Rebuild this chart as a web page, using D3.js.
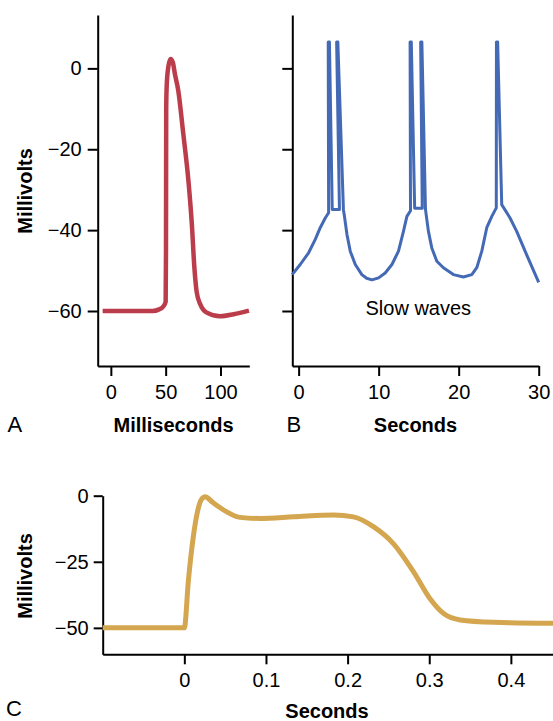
<!DOCTYPE html>
<html><head><meta charset="utf-8">
<script src="https://cdn.jsdelivr.net/npm/d3@7"></script>
<style>
body{margin:0;background:#fff;}
svg text{font-family:"Liberation Sans",Arial,Helvetica,sans-serif;fill:#000;}
</style></head><body>
<svg id="chart" width="553" height="721"></svg>
<script>
// ---------- Panel A: action potential (milliseconds, millivolts)
const aTimeMs = [-7.5, 38, 44, 48, 50, 50.3, 50.5, 51, 52.5, 54.5, 56.5, 58.5, 61.5, 66, 71, 74, 76, 78.3, 81.5, 87.5, 99.7, 112, 126];
const aMillivolts = [-60, -60, -59.6, -58.8, -57.7, -45, -10, -4, 0.5, 2.3, 1.5, -1.5, -5.5, -16, -28.5, -39, -48.5, -55.3, -58.3, -60.4, -61.3, -60.8, -59.9];
const aXTicks = [0, 50, 100];
const aXLabels = ["0", "50", "100"];
const abYTicks = [0, -20, -40, -60];
const aYLabels = ["0", "\u221220", "\u221240", "\u221260"];

// ---------- Panel B: slow waves with spikes (seconds, millivolts)
const bSeconds = [-0.8, 0.2, 1.25, 2.08, 2.7, 3.33, 3.75, 3.7, 3.85, 4.2, 5.1, 4.75, 4.9, 5.6, 5.7, 6.04, 6.45, 7.08, 7.9, 8.5, 9.16, 9.99, 10.82, 11.66, 12.48, 13.1, 13.53, 13.98, 13.93, 14.08, 14.5, 15.45, 15.25, 15.4, 15.85, 15.94, 16.22, 16.64, 17.27, 18.09, 19.34, 20.59, 21.64, 22.26, 22.89, 23.51, 24.14, 24.7, 24.72, 24.87, 25.38, 26.42, 27.25, 28.5, 30.0];
const bMillivolts = [-51.0, -48.5, -45.6, -42.3, -39.4, -37.0, -35.7, 6.5, 6.5, -34.9, -34.9, 6.5, 6.5, -35.0, -36.2, -41.1, -45.2, -48.5, -51.0, -51.9, -52.3, -51.8, -50.6, -48.5, -45.2, -40.3, -36.6, -35.2, 6.5, 6.5, -34.6, -34.6, 6.5, 6.5, -34.8, -36.2, -40.3, -44.4, -47.7, -49.3, -51.0, -51.6, -51.0, -49.3, -45.2, -39.4, -36.6, -34.5, 6.5, 6.5, -33.7, -37.0, -40.3, -46.1, -52.9];
const bXTicks = [0, 10, 20, 30];
const bXLabels = ["0", "10", "20", "30"];

// ---------- Panel C: action potential (seconds, millivolts)
const cSeconds = [-0.1, 0, 0.005, 0.011, 0.0165, 0.021, 0.0255, 0.035, 0.052, 0.068, 0.093, 0.134, 0.183, 0.207, 0.232, 0.256, 0.281, 0.301, 0.318, 0.338, 0.379, 0.4516];
const cMillivolts = [-50, -50, -32, -15.5, -5.5, -1.4, -0.4, -2.6, -6.1, -8.2, -8.6, -8.0, -7.3, -8.0, -11.8, -18.1, -28.9, -39.0, -44.7, -47.0, -47.9, -48.3];
const cXTicks = [0, 0.1, 0.2, 0.3, 0.4];
const cXLabels = ["0", "0.1", "0.2", "0.3", "0.4"];
const cYTicks = [0, -25, -50];
const cYLabels = ["0", "\u221225", "\u221250"];

const svg = d3.select("#chart");
const zip = (xs, ys) => xs.map((v, i) => [v, ys[i]]);

function styleAxis(g) {
  g.selectAll("path, line").attr("stroke", "#000").attr("stroke-width", 2);
  g.selectAll("text").attr("font-size", 20).attr("fill", "#000")
    .attr("font-family", '"Liberation Sans",Arial,Helvetica,sans-serif');
}

function panel(cfg) {
  const g = svg.append("g");
  const x = d3.scaleLinear().domain(cfg.xDomain).range(cfg.xRange);
  const y = d3.scaleLinear().domain(cfg.yDomain).range(cfg.yRange);
  const xAxis = d3.axisBottom(x).tickValues(cfg.xTicks)
    .tickFormat((d, i) => cfg.xLabels[i]).tickSize(10).tickSizeOuter(0).tickPadding(9);
  const yAxis = d3.axisLeft(y).tickValues(cfg.yTicks)
    .tickFormat((d, i) => cfg.yLabels ? cfg.yLabels[i] : "").tickSize(cfg.yTickSize).tickSizeOuter(0).tickPadding(cfg.yPad);
  g.append("g").attr("transform", `translate(0,${cfg.yRange[0]})`).call(xAxis).call(styleAxis);
  g.append("g").attr("transform", `translate(${cfg.xRange[0]},0)`).call(yAxis).call(styleAxis);
  g.append("path")
    .datum(zip(cfg.xs, cfg.ys))
    .attr("fill", "none")
    .attr("stroke", cfg.color)
    .attr("stroke-width", cfg.width)
    .attr("stroke-linejoin", "round")
    .attr("d", d3.line().x(d => x(d[0])).y(d => y(d[1])).curve(cfg.curve));
  return {g, x, y};
}

// Panel A
panel({
  xDomain: [-12, 126.3], xRange: [97.7, 249.3],
  yDomain: [-73.6, 13.2], yRange: [366, 15],
  xTicks: aXTicks, xLabels: aXLabels, yTicks: abYTicks, yLabels: aYLabels,
  yTickSize: 10, yPad: 6,
  xs: aTimeMs, ys: aMillivolts, color: "#bb3d4b", width: 4.5, curve: d3.curveMonotoneX
});

// Panel B
panel({
  xDomain: [-0.79, 30], xRange: [292.3, 538.7],
  yDomain: [-73.6, 13.2], yRange: [366, 15],
  xTicks: bXTicks, xLabels: bXLabels, yTicks: abYTicks, yLabels: null,
  yTickSize: 10, yPad: 6,
  xs: bSeconds, ys: bMillivolts, color: "#4469b5", width: 3, curve: d3.curveLinear
});

// Panel C
panel({
  xDomain: [-0.1, 0.4516], xRange: [102.7, 553],
  yDomain: [-60, 0], yRange: [654.3, 495.7],
  xTicks: cXTicks, xLabels: cXLabels, yTicks: cYTicks, yLabels: cYLabels,
  yTickSize: 9, yPad: 5,
  xs: cSeconds, ys: cMillivolts, color: "#d4a64f", width: 5, curve: d3.curveMonotoneX
});

// Titles and labels
const bold = {"font-size": 20, "font-weight": "bold"};
function text(x, y, s, attrs, anchor, rot) {
  const t = svg.append("text").attr("text-anchor", anchor || "middle").text(s);
  if (rot) t.attr("transform", `translate(${x},${y}) rotate(${rot})`);
  else t.attr("x", x).attr("y", y);
  Object.entries(attrs).forEach(([k, v]) => t.attr(k, v));
  return t;
}
text(32.3, 191, "Millivolts", bold, "middle", -90);
text(32.3, 576, "Millivolts", bold, "middle", -90);
text(173.5, 431.7, "Milliseconds", bold);
text(415.5, 431.7, "Seconds", bold);
text(327, 718, "Seconds", bold);
text(418.3, 315, "Slow waves", {"font-size": 20});
text(7.5, 431.7, "A", {"font-size": 22}, "start");
text(286.5, 431.7, "B", {"font-size": 22}, "start");
text(6, 716, "C", {"font-size": 22}, "start");
</script>
</body></html>
